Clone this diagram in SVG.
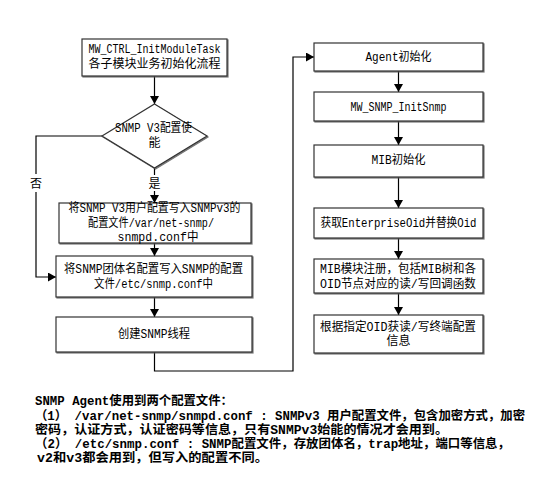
<svg xmlns="http://www.w3.org/2000/svg" width="554" height="496" viewBox="0 0 554 496">
<style>
.box{fill:#fff;stroke:#333;stroke-width:1.2;filter:url(#sh)}
.t{font-family:"Liberation Mono","Noto Sans CJK SC",monospace;font-size:12px;fill:#000;text-anchor:middle}
.n{font-family:"Liberation Mono","Noto Sans CJK SC",monospace;font-size:12.5px;font-weight:bold;fill:#000}
.c{fill:none;stroke:#000;stroke-width:1.2}
</style>
<defs>
<filter id="sh" x="-5%" y="-5%" width="110%" height="120%">
<feDropShadow dx="1" dy="1" stdDeviation="0.4" flood-color="#555" flood-opacity="0.8"/>
</filter>
<marker id="ar" markerUnits="userSpaceOnUse" markerWidth="9" markerHeight="9" refX="8" refY="4.5" orient="auto">
<path d="M0,0 L8,4.5 L0,9 z" fill="#000"/>
</marker>
</defs>
<rect width="554" height="496" fill="#fff"/>

<g id="connectors">
<path class="c" d="M154.5,76 V104" marker-end="url(#ar)"/>
<path class="c" d="M154.5,168 V175 M154.5,191 V203" marker-end="url(#ar)"/>
<path class="c" d="M102,136 H36 V174 M36,192 V277 H56" marker-end="url(#ar)"/>
<path class="c" d="M154.5,243 V256" marker-end="url(#ar)"/>
<path class="c" d="M154.5,297 V317" marker-end="url(#ar)"/>
<path class="c" d="M154.5,352 V371 H293 V57 H314" marker-end="url(#ar)"/>
<path class="c" d="M398.5,71 V92" marker-end="url(#ar)"/>
<path class="c" d="M398.5,121 V145" marker-end="url(#ar)"/>
<path class="c" d="M398.5,177 V208" marker-end="url(#ar)"/>
<path class="c" d="M398.5,238 V259" marker-end="url(#ar)"/>
<path class="c" d="M398.5,293 V315" marker-end="url(#ar)"/>
<text class="t" x="154.5" y="188">是</text>
<text class="t" x="36" y="188">否</text>
</g>

<g id="start">
<rect class="box" x="82" y="39" width="145" height="37"/>
<text class="t" x="154.5" y="53" textLength="132" lengthAdjust="spacingAndGlyphs">MW_CTRL_InitModuleTask</text>
<text class="t" x="154.5" y="68" textLength="132" lengthAdjust="spacingAndGlyphs">各子模块业务初始化流程</text>
</g>

<g id="decision">
<polygon class="box" points="154.5,104 207,136 154.5,168 102,136"/>
<text class="t" x="153.5" y="132" textLength="77" lengthAdjust="spacingAndGlyphs">SNMP V3配置使</text>
<text class="t" x="154.5" y="147">能</text>
</g>

<g id="v3config">
<rect class="box" x="59" y="203" width="192" height="40"/>
<text class="t" x="154.5" y="212" textLength="172" lengthAdjust="spacingAndGlyphs">将SNMP V3用户配置写入SNMPv3的</text>
<text class="t" x="151" y="227" textLength="126" lengthAdjust="spacingAndGlyphs">配置文件/var/net-snmp/</text>
<text class="t" x="158" y="241" textLength="81" lengthAdjust="spacingAndGlyphs">snmpd.conf中</text>
</g>

<g id="community">
<rect class="box" x="56" y="256" width="196" height="41"/>
<text class="t" x="153.5" y="273" textLength="179" lengthAdjust="spacingAndGlyphs">将SNMP团体名配置写入SNMP的配置</text>
<text class="t" x="153.5" y="288" textLength="119" lengthAdjust="spacingAndGlyphs">文件/etc/snmp.conf中</text>
</g>

<g id="thread">
<rect class="box" x="56" y="317" width="196" height="35"/>
<text class="t" x="154" y="338" textLength="72" lengthAdjust="spacingAndGlyphs">创建SNMP线程</text>
</g>

<g id="agentinit">
<rect class="box" x="314" y="43" width="169" height="28"/>
<text class="t" x="398.5" y="61" textLength="66" lengthAdjust="spacingAndGlyphs">Agent初始化</text>
</g>

<g id="initsnmp">
<rect class="box" x="314" y="92" width="169" height="29"/>
<text class="t" x="398.5" y="111" textLength="96" lengthAdjust="spacingAndGlyphs">MW_SNMP_InitSnmp</text>
</g>

<g id="mibinit">
<rect class="box" x="314" y="145" width="169" height="32"/>
<text class="t" x="398.5" y="164" textLength="54" lengthAdjust="spacingAndGlyphs">MIB初始化</text>
</g>

<g id="oid">
<rect class="box" x="314" y="208" width="169" height="30"/>
<text class="t" x="398.5" y="227" textLength="156" lengthAdjust="spacingAndGlyphs">获取EnterpriseOid并替换Oid</text>
</g>

<g id="mibreg">
<rect class="box" x="314" y="259" width="169" height="34"/>
<text class="t" x="398" y="273" textLength="156" lengthAdjust="spacingAndGlyphs">MIB模块注册，包括MIB树和各</text>
<text class="t" x="398" y="288" textLength="156" lengthAdjust="spacingAndGlyphs">OID节点对应的读/写回调函数</text>
</g>

<g id="rw">
<rect class="box" x="314" y="315" width="169" height="38"/>
<text class="t" x="398" y="331" textLength="156" lengthAdjust="spacingAndGlyphs">根据指定OID获读/写终端配置</text>
<text class="t" x="398.5" y="345">信息</text>
</g>

<g id="notes">
<text class="n" x="35" y="405" textLength="198" lengthAdjust="spacingAndGlyphs">SNMP Agent使用到两个配置文件：</text>
<text class="n" x="35" y="420" textLength="490" lengthAdjust="spacingAndGlyphs">（1） /var/net-snmp/snmpd.conf : SNMPv3 用户配置文件，包含加密方式，加密</text>
<text class="n" x="35" y="434" textLength="413" lengthAdjust="spacingAndGlyphs">密码，认证方式，认证密码等信息，只有SNMPv3始能的情况才会用到。</text>
<text class="n" x="35" y="448" textLength="475" lengthAdjust="spacingAndGlyphs">（2） /etc/snmp.conf : SNMP配置文件，存放团体名，trap地址，端口等信息，</text>
<text class="n" x="37" y="462" textLength="231" lengthAdjust="spacingAndGlyphs">v2和v3都会用到，但写入的配置不同。</text>
</g>
</svg>
